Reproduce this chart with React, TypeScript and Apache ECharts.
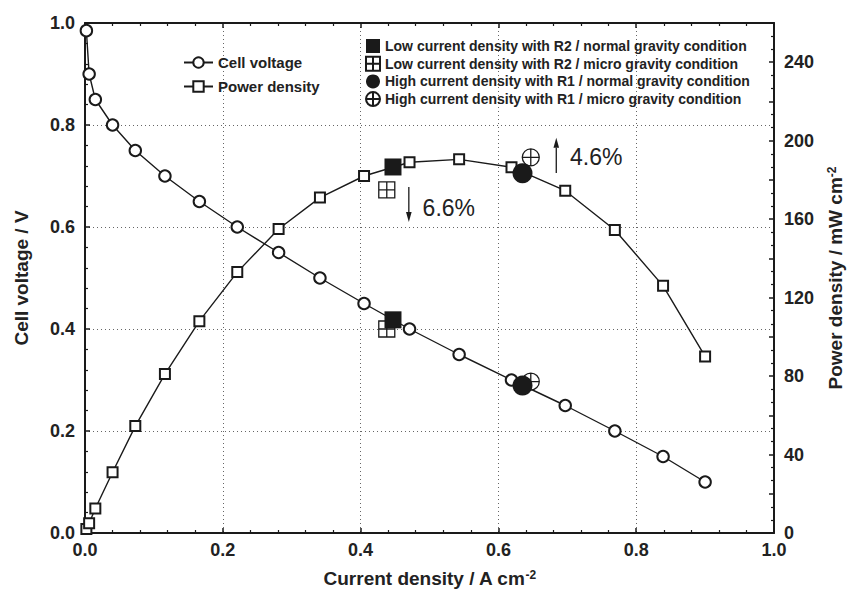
import React, { useEffect, useRef } from "react";
import * as echarts from "echarts";

// Polarization curve (main series)
const currentDensity = [0.002, 0.006, 0.015, 0.040, 0.073, 0.116, 0.166, 0.221, 0.281, 0.341, 0.405, 0.471, 0.543, 0.619, 0.697, 0.769, 0.839, 0.900];
const cellVoltage = [0.985, 0.90, 0.85, 0.80, 0.75, 0.70, 0.65, 0.60, 0.55, 0.50, 0.45, 0.40, 0.35, 0.30, 0.25, 0.20, 0.15, 0.10];
const powerDensity = [2, 5, 12.5, 31, 54.5, 81, 108, 133, 155, 171, 182, 189, 190.5, 186.5, 174.5, 154.5, 126, 90];

// Special operating points
const markerNames = [
  "Low current density with R2 / normal gravity condition",
  "Low current density with R2 / micro gravity condition",
  "High current density with R1 / normal gravity condition",
  "High current density with R1 / micro gravity condition",
];
const markerCurrent = [0.447, 0.438, 0.635, 0.647];
const markerVoltage = [0.418, 0.400, 0.289, 0.297];
const markerPower = [186.6, 174.9, 183.4, 191.5];

// Annotations (change labels)
const annotationTexts = ["4.6%", "6.6%"];
const annotationArrowX = [0.684, 0.470];
const annotationArrowFrom = [183.5, 176.4];
const annotationArrowTo = [201.5, 158.6];
const annotationTextX = [0.704, 0.490];
const annotationTextY = [191.7, 165.7];

const xTicks = { min: 0, max: 1, interval: 0.2 };
const vTicks = { min: 0, max: 1, interval: 0.2 };
const pTicks = { min: 0, max: 260, interval: 20, labelStep: 40 };

const FONT = "'Liberation Sans', Arial, Helvetica, sans-serif";
const INK = "#1a1a1a";
const TXT = "#222";

const GRID_SQUARE = "path://M0,0L10,0L10,10L0,10ZM5,0L5,10M0,5L10,5";
const CIRCLE_PLUS = "path://M10,5A5,5,0,1,1,0,5A5,5,0,1,1,10,5ZM5,0L5,10M0,5L10,5";

export default function App() {
  const ref = useRef<HTMLDivElement>(null);

  useEffect(() => {
    if (!ref.current) return;
    const chart = echarts.init(ref.current, null, { renderer: "svg" });

    const axisLine = { show: true, onZero: false, lineStyle: { color: INK, width: 2 } };
    const tick = { show: true, inside: true, length: 5, lineStyle: { color: INK, width: 1.5 } };
    const minor = (n: number) => ({ show: true, splitNumber: n, length: 3, lineStyle: { color: INK, width: 1.2 } });
    const label = { fontSize: 18, fontWeight: "bold" as const, color: TXT, fontFamily: FONT };
    const dotted = { show: true, lineStyle: { color: "#666", width: 1, type: [1, 3] as any } };
    const nameStyle = {
      fontSize: 19,
      fontWeight: "bold" as const,
      color: TXT,
      fontFamily: FONT,
      rich: { sup: { fontSize: 12, fontWeight: "bold" as const, color: TXT, fontFamily: FONT, verticalAlign: "top" as const } },
    };

    const symbols = ["rect", GRID_SQUARE, "circle", CIRCLE_PLUS];
    const sizes = [17, 16, 20, 17];
    const filled = [true, false, true, false];
    const zs = [4, 3, 4, 3];

    const markerSeries: any[] = [];
    markerNames.forEach((name, i) => {
      const itemStyle = filled[i]
        ? { color: INK, opacity: 1 }
        : { color: "#fff", borderColor: INK, borderWidth: 1.3, opacity: 1 };
      [0, 1].forEach((axis) => {
        markerSeries.push({
          name,
          type: "scatter",
          xAxisIndex: 0,
          yAxisIndex: axis,
          symbol: symbols[i],
          symbolSize: sizes[i],
          itemStyle,
          emphasis: { disabled: true },
          z: zs[i],
          data: [[markerCurrent[i], axis === 0 ? markerVoltage[i] : markerPower[i]]],
        });
      });
    });

    const option: any = {
      animation: false,
      backgroundColor: "#fff",
      textStyle: { fontFamily: FONT },
      grid: { left: 85, right: 85, top: 23, bottom: 63, containLabel: false },
      legend: [
        {
          data: ["Cell voltage", "Power density"],
          orient: "vertical",
          left: 183,
          top: 55,
          padding: 0,
          itemWidth: 29,
          itemHeight: 13,
          itemGap: 9,
          textStyle: { fontSize: 15, fontWeight: "bold", color: TXT, fontFamily: FONT },
          selectedMode: false,
        },
        {
          data: markerNames,
          orient: "vertical",
          left: 365,
          top: 39,
          padding: 0,
          itemWidth: 14,
          itemHeight: 14,
          itemGap: 2.7,
          textStyle: { fontSize: 14, fontWeight: "bold", color: TXT, fontFamily: FONT },
          selectedMode: false,
        },
      ],
      xAxis: [
        {
          type: "value",
          position: "bottom",
          ...xTicks,
          axisLine,
          axisTick: tick,
          minorTick: minor(5),
          axisLabel: { ...label, margin: 8, formatter: (v: number) => v.toFixed(1) },
          splitLine: dotted,
          name: "Current density / A cm{sup|-2}",
          nameLocation: "middle",
          nameGap: 36,
          nameTextStyle: nameStyle,
        },
        {
          type: "value",
          position: "top",
          ...xTicks,
          axisLine,
          axisTick: tick,
          minorTick: minor(5),
          axisLabel: { show: false },
          splitLine: { show: false },
        },
      ],
      yAxis: [
        {
          type: "value",
          position: "left",
          ...vTicks,
          axisLine,
          axisTick: tick,
          minorTick: minor(5),
          axisLabel: { ...label, margin: 10, formatter: (v: number) => v.toFixed(1) },
          splitLine: dotted,
          name: "Cell voltage / V",
          nameLocation: "middle",
          nameRotate: 90,
          nameGap: 54,
          nameTextStyle: nameStyle,
        },
        {
          type: "value",
          position: "right",
          min: pTicks.min,
          max: pTicks.max,
          interval: pTicks.interval,
          axisLine,
          axisTick: tick,
          minorTick: minor(3),
          axisLabel: {
            ...label,
            margin: 10,
            showMaxLabel: false,
            formatter: (v: number) => (v % pTicks.labelStep === 0 && v < pTicks.max ? String(v) : ""),
          },
          splitLine: { show: false },
          name: "Power density / mW cm{sup|-2}",
          nameLocation: "middle",
          nameRotate: 90,
          nameGap: 52,
          nameTextStyle: nameStyle,
        },
      ],
      series: [
        {
          name: "Cell voltage",
          type: "line",
          xAxisIndex: 0,
          yAxisIndex: 0,
          symbol: "emptyCircle",
          symbolSize: 11.5,
          showAllSymbol: true,
          lineStyle: { color: INK, width: 1.4 },
          itemStyle: { color: INK, borderColor: INK, borderWidth: 1.6 },
          emphasis: { disabled: true },
          z: 2,
          data: currentDensity.map((c, i) => [c, cellVoltage[i]]),
        },
        {
          name: "Power density",
          type: "line",
          xAxisIndex: 0,
          yAxisIndex: 1,
          symbol: "emptyRect",
          symbolSize: 10,
          showAllSymbol: true,
          lineStyle: { color: INK, width: 1.4 },
          itemStyle: { color: INK, borderColor: INK, borderWidth: 1.6 },
          emphasis: { disabled: true },
          z: 2,
          data: currentDensity.map((c, i) => [c, powerDensity[i]]),
        },
        ...markerSeries,
      ],
    };

    chart.setOption(option);

    const toPx = (x: number, p: number) =>
      chart.convertToPixel({ seriesIndex: 1 }, [x, p]) as number[];

    const elements: any[] = [];
    annotationTexts.forEach((t, i) => {
      const [ax, yFrom] = toPx(annotationArrowX[i], annotationArrowFrom[i]);
      const [, yTo] = toPx(annotationArrowX[i], annotationArrowTo[i]);
      const dir = yTo < yFrom ? -1 : 1;
      const head = 10;
      elements.push({
        type: "line",
        shape: { x1: ax, y1: yFrom, x2: ax, y2: yTo - dir * head },
        style: { stroke: INK, lineWidth: 1.3 },
        z: 10,
      });
      elements.push({
        type: "polygon",
        shape: { points: [[ax, yTo], [ax - 2.8, yTo - dir * head], [ax + 2.8, yTo - dir * head]] },
        style: { fill: INK },
        z: 10,
      });
      const [tx, ty] = toPx(annotationTextX[i], annotationTextY[i]);
      elements.push({
        type: "text",
        x: tx,
        y: ty,
        style: {
          text: t,
          fontSize: 23,
          fontFamily: FONT,
          fill: TXT,
          align: "left",
          verticalAlign: "middle",
          textAlign: "left",
          textVerticalAlign: "middle",
        },
        z: 10,
      });
    });
    chart.setOption({ graphic: elements });

    return () => chart.dispose();
  }, []);

  return (
    <div
      ref={ref}
      style={{ position: "fixed", left: 0, top: 0, width: 859, height: 596, background: "#fff" }}
    />
  );
}
